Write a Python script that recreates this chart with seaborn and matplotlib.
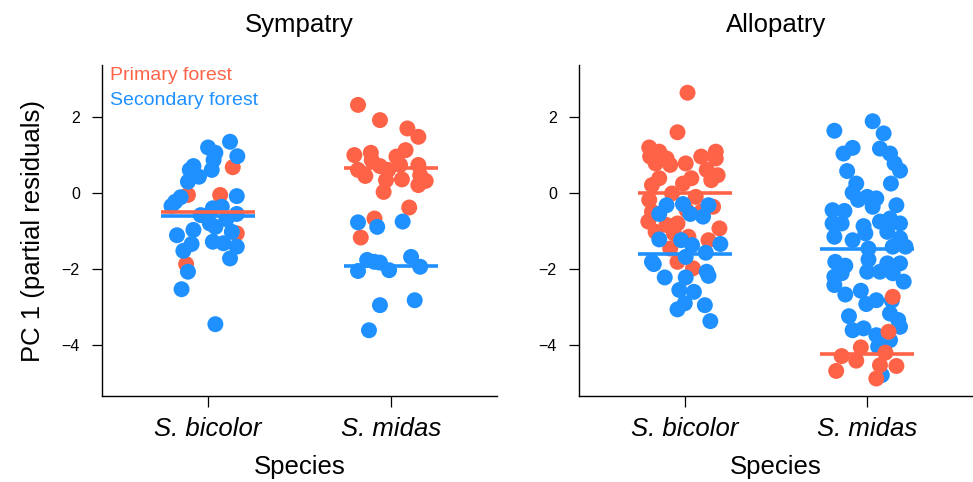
import numpy as np
import pandas as pd
import matplotlib
matplotlib.use("Agg")
import matplotlib.pyplot as plt
import seaborn as sns

# ---------------- data ----------------
panels = ["Sympatry", "Allopatry"]
species = ["S. bicolor", "S. midas"]
forests = ["Primary forest", "Secondary forest"]

# Sympatry
sym_bic_pri_val = [0.68, -0.05, -0.05, -1.06, -1.87]
sym_bic_pri_jit = [0.135, -0.11, 0.066, 0.157, -0.12]
sym_bic_sec_val = [1.35, 1.20, 1.06, 0.97, 0.87, 0.61, 0.71, 0.61, 0.43, 0.30,
                   -0.11, -0.23, -0.34, -0.08, -0.40, -0.36, -0.58, -0.55, -0.80, -0.69,
                   -1.11, -0.97, -0.89, -1.02, -1.28, -1.32, -1.41, -1.34, -1.52, -1.72,
                   -2.07, -2.53, -3.45]
sym_bic_sec_jit = [0.12, 0.0, 0.04, 0.16, 0.03, 0.02, -0.08, -0.10, -0.05, -0.11,
                   -0.15, -0.18, -0.20, 0.157, 0.026, 0.075, -0.04, 0.157, 0.01, 0.10,
                   -0.17, -0.08, 0.04, 0.13, 0.026, 0.084, 0.157, -0.09, -0.135, 0.12,
                   -0.11, -0.145, 0.04]
sym_mid_pri_val = [2.32, 1.92, 1.70, 1.48, 1.00, 1.06, 1.13, 0.96, 0.87, 0.61,
                   0.45, 0.71, 0.61, 0.74, 0.74, 0.47, 0.32, 0.36, 0.34, 0.03,
                   0.21, -0.38, -0.67, -1.17]
sym_mid_pri_jit = [-0.18, -0.06, 0.09, 0.15, -0.20, -0.11, 0.08, 0.03, -0.105, -0.18,
                   -0.14, -0.06, -0.015, 0.05, 0.15, 0.16, 0.19, 0.06, -0.027, -0.04,
                   0.15, 0.10, -0.09, -0.165]
sym_mid_sec_val = [-0.77, -0.89, -0.75, -1.76, -1.83, -2.05, -2.03, -1.68, -1.94, -2.95,
                   -2.82, -3.61, -1.81]
sym_mid_sec_jit = [-0.18, -0.075, 0.064, -0.13, -0.06, -0.18, -0.01, 0.11, 0.16, -0.06,
                   0.13, -0.12, -0.09]

# Allopatry
allo_bic_pri_val = [2.64, 1.60, 1.20, 1.09, 0.96, 0.91, 0.78, 0.74, 0.78, 0.96,
                    1.09, 0.91, 0.61, 0.47, 0.34, 0.39, 0.25, 0.39, 0.21, -0.01,
                    -0.18, -0.10, -0.36, -0.49, -0.75, -0.84, -0.80, -1.02, -1.06, -1.15,
                    -0.93, -1.24, -1.46, -1.81, -1.98, -0.49, -0.45]
allo_bic_pri_jit = [0.015, -0.04, -0.195, -0.14, -0.19, -0.10, -0.16, -0.08, 0.005, 0.09,
                    0.17, 0.17, 0.12, 0.18, 0.145, 0.036, -0.01, -0.14, -0.18, -0.07,
                    -0.195, 0.06, 0.155, -0.18, -0.20, -0.10, -0.04, -0.16, -0.06, 0.02,
                    0.19, 0.13, -0.08, -0.04, 0.045, 0.09, 0.01]
allo_bic_sec_val = [-0.32, -0.55, -0.29, -0.55, -0.62, -0.32, -1.22, -1.24, -1.37, -1.68,
                    -1.57, -1.34, -1.81, -2.22, -2.22, -2.07, -2.55, -2.60, -2.90, -3.06,
                    -2.95, -3.37, -2.18, -1.87]
allo_bic_sec_jit = [-0.10, -0.14, -0.01, 0.03, 0.10, 0.13, -0.14, -0.02, 0.04, 0.005,
                    0.115, 0.195, -0.18, -0.11, 0.005, 0.12, -0.03, 0.05, 0.0, -0.04,
                    0.11, 0.14, 0.13, -0.17]
allo_mid_sec_val = [1.64, 1.89, 1.57, 1.04, 1.19, 1.17, 1.04, 0.78, 0.59, 0.58,
                    0.25, 0.25, 0.01, -0.18, -0.10, -0.14, -0.36, -0.32, -0.45, -0.47,
                    -0.80, -0.80, -0.87, -0.75, -0.67, -0.80, -1.15, -1.24, -1.06, -1.02,
                    -1.19, -1.41, -1.41, -1.46, -1.81, -1.91, -1.75, -1.85, -1.85, -2.20,
                    -2.11, -2.07, -2.07, -2.11, -2.33, -2.42, -2.67, -2.57, -2.82, -2.92,
                    -2.83, -3.24, -3.17, -3.34, -3.52, -3.61, -3.56, -3.74, -3.87, -4.04,
                    -4.79]
allo_mid_sec_jit = [-0.18, 0.03, 0.09, -0.13, -0.08, 0.07, 0.125, 0.15, 0.18, -0.11,
                    0.13, -0.06, -0.08, -0.05, 0.0, 0.05, 0.03, 0.16, -0.19, -0.125,
                    -0.19, -0.14, -0.02, 0.07, 0.125, 0.18, -0.18, -0.08, -0.01, 0.11,
                    0.18, 0.21, 0.14, 0.007, -0.175, -0.12, 0.007, 0.11, 0.18, -0.18,
                    -0.14, 0.0, 0.07, 0.14, 0.20, -0.18, -0.12, -0.035, 0.05, -0.005,
                    0.135, -0.10, 0.125, 0.17, 0.18, -0.08, -0.02, 0.05, 0.125, 0.06,
                    0.08]
allo_mid_pri_val = [-2.73, -3.65, -4.06, -4.29, -4.41, -4.20, -4.53, -4.55, -4.68, -4.88]
allo_mid_pri_jit = [0.14, 0.117, -0.035, -0.14, -0.06, 0.10, 0.07, 0.16, -0.17, 0.05]

# group means (horizontal bars)
means_sympatry = {("S. bicolor", "Primary forest"): -0.49,
                  ("S. bicolor", "Secondary forest"): -0.61,
                  ("S. midas", "Primary forest"): 0.66,
                  ("S. midas", "Secondary forest"): -1.92}
means_allopatry = {("S. bicolor", "Primary forest"): 0.0,
                   ("S. bicolor", "Secondary forest"): -1.60,
                   ("S. midas", "Primary forest"): -4.24,
                   ("S. midas", "Secondary forest"): -1.47}

y_ticks = [-4, -2, 0, 2]

# ---------------- build table (row order = drawing order) ----------------
groups = [
    ("Sympatry", "S. bicolor", "Primary forest", sym_bic_pri_val, sym_bic_pri_jit),
    ("Sympatry", "S. bicolor", "Secondary forest", sym_bic_sec_val, sym_bic_sec_jit),
    ("Sympatry", "S. midas", "Primary forest", sym_mid_pri_val, sym_mid_pri_jit),
    ("Sympatry", "S. midas", "Secondary forest", sym_mid_sec_val, sym_mid_sec_jit),
    ("Allopatry", "S. bicolor", "Primary forest", allo_bic_pri_val, allo_bic_pri_jit),
    ("Allopatry", "S. bicolor", "Secondary forest", allo_bic_sec_val, allo_bic_sec_jit),
    ("Allopatry", "S. midas", "Secondary forest", allo_mid_sec_val, allo_mid_sec_jit),
    ("Allopatry", "S. midas", "Primary forest", allo_mid_pri_val, allo_mid_pri_jit),
]
rows = []
for pan, sp, fo, vals, jits in groups:
    for v, j in zip(vals, jits):
        rows.append({"panel": pan, "species": sp, "forest": fo, "pc1": v,
                     "x": species.index(sp) + j})
df = pd.DataFrame(rows)

palette = {"Primary forest": "#FF6347", "Secondary forest": "#1E90FF"}

# ---------------- figure ----------------
sns.set_style("ticks")
plt.rcParams["font.family"] = ["Liberation Sans", "DejaVu Sans"]
for k in ["text.color", "axes.labelcolor", "xtick.color", "ytick.color", "axes.edgecolor"]:
    plt.rcParams[k] = "black"

fig = plt.figure(figsize=(9.73, 4.82), dpi=100)
W, H = 973.0, 482.0
ax1 = fig.add_axes([102 / W, 1 - 396 / H, 395 / W, 331 / H])
ax2 = fig.add_axes([579 / W, 1 - 396 / H, 394 / W, 331 / H])

for ax, pan, means in [(ax1, "Sympatry", means_sympatry), (ax2, "Allopatry", means_allopatry)]:
    sub = df[df["panel"] == pan]
    sns.scatterplot(data=sub, x="x", y="pc1", hue="forest", palette=palette,
                    s=132, linewidth=0, alpha=1, legend=False, ax=ax, zorder=2)
    for (sp, fo), m in means.items():
        i = species.index(sp)
        ax.hlines(m, i - 0.257, i + 0.257, color=palette[fo], lw=2.6, zorder=3,
                  capstyle="butt")
    ax.set_xlim(-0.58, 1.58)
    ax.set_ylim(-5.34, 3.37)
    ax.set_xticks([0, 1])
    ax.set_xticklabels(species, fontstyle="italic", fontsize=18.5)
    ax.set_yticks(y_ticks)
    ax.set_yticklabels([f"\u2212{abs(t)}" if t < 0 else str(t) for t in y_ticks],
                       fontsize=11.5)
    ax.tick_params(axis="x", length=8, width=0.9, pad=7, colors="black")
    ax.tick_params(axis="y", length=7, width=0.9, pad=9, colors="black")
    for s in ["top", "right"]:
        ax.spines[s].set_visible(False)
    for s in ["left", "bottom"]:
        ax.spines[s].set_linewidth(1.0)
        ax.spines[s].set_color("black")
    ax.set_xlabel("Species", fontsize=18.5, labelpad=10)
    ax.set_ylabel("")
    ax.set_title(pan, fontsize=18.5, pad=24)

ax1.set_ylabel("PC 1 (partial residuals)", fontsize=18.5, labelpad=12)
ax1.text(0.02, 0.968, "Primary forest", color=palette["Primary forest"],
         fontsize=14, transform=ax1.transAxes, va="center", ha="left")
ax1.text(0.02, 0.893, "Secondary forest", color=palette["Secondary forest"],
         fontsize=14, transform=ax1.transAxes, va="center", ha="left")

fig.savefig("out.png", dpi=100)
